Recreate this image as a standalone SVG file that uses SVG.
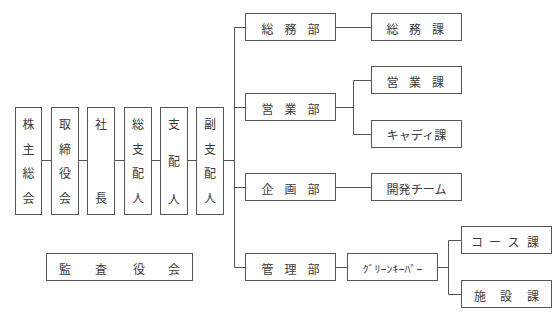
<svg xmlns="http://www.w3.org/2000/svg" width="556" height="329" viewBox="0 0 556 329">
<style>
rect{fill:#fff;stroke:#555;stroke-width:1}
.c line,.c path{stroke:#555;stroke-width:1;fill:none}
text{font-family:"Noto Sans CJK JP","Noto Sans",sans-serif;font-size:12px;fill:#3c3c3c;text-anchor:middle;dominant-baseline:central}
</style>
<rect x="0" y="0" width="556" height="329" style="stroke:none"/>
<g class="c" id="connectors">
<line x1="41.5" y1="160.5" x2="51.5" y2="160.5"/>
<line x1="78.5" y1="160.5" x2="87.5" y2="160.5"/>
<line x1="114.5" y1="160.5" x2="124.5" y2="160.5"/>
<line x1="151.5" y1="160.5" x2="160.5" y2="160.5"/>
<line x1="187.5" y1="160.5" x2="196.5" y2="160.5"/>
<line x1="223.5" y1="160.5" x2="234.5" y2="160.5"/>
<line x1="234.5" y1="27.5" x2="234.5" y2="267.5"/>
<line x1="234.5" y1="27.5" x2="245.5" y2="27.5"/>
<line x1="234.5" y1="107.5" x2="245.5" y2="107.5"/>
<line x1="234.5" y1="187.5" x2="245.5" y2="187.5"/>
<line x1="234.5" y1="267.5" x2="245.5" y2="267.5"/>
<line x1="335.5" y1="27.5" x2="371.5" y2="27.5"/>
<line x1="335.5" y1="107.5" x2="353.5" y2="107.5"/>
<path d="M371.5 80.5H353.5V134.5H371.5"/>
<line x1="335.5" y1="187.5" x2="371.5" y2="187.5"/>
<line x1="335.5" y1="267.5" x2="347.5" y2="267.5"/>
<line x1="437.5" y1="267.5" x2="448.5" y2="267.5"/>
<path d="M461.5 240.5H448.5V294.5H461.5"/>
</g>
<g id="kabunushi"><rect x="15.5" y="107.5" width="26" height="107"/><text x="28.5" y="123">株</text><text x="28.5" y="148">主</text><text x="28.5" y="172">総</text><text x="28.5" y="197">会</text></g>
<g id="torishimariyaku"><rect x="51.5" y="107.5" width="27" height="107"/><text x="65" y="123">取</text><text x="65" y="148">締</text><text x="65" y="172">役</text><text x="65" y="197">会</text></g>
<g id="shacho"><rect x="87.5" y="107.5" width="27" height="107"/><text x="101" y="123">社</text><text x="101" y="197">長</text></g>
<g id="soshihainin"><rect x="124.5" y="107.5" width="27" height="107"/><text x="138" y="123">総</text><text x="138" y="148">支</text><text x="138" y="172">配</text><text x="138" y="197">人</text></g>
<g id="shihainin"><rect x="160.5" y="107.5" width="27" height="107"/><text x="174" y="123">支</text><text x="174" y="160.5">配</text><text x="174" y="198">人</text></g>
<g id="fukushihainin"><rect x="196.5" y="107.5" width="27" height="107"/><text x="210" y="123">副</text><text x="210" y="148">支</text><text x="210" y="172">配</text><text x="210" y="197">人</text></g>
<g id="kansayaku"><rect x="46.5" y="253.5" width="146" height="27"/><text x="65" y="268">監</text><text x="101" y="268">査</text><text x="139" y="268">役</text><text x="174" y="268">会</text></g>
<g id="somubu"><rect x="245.5" y="13.5" width="90" height="27"/><text x="267.5" y="28">総</text><text x="290.5" y="28">務</text><text x="313.5" y="28">部</text></g>
<g id="somuka"><rect x="371.5" y="13.5" width="90" height="27"/><text x="392.5" y="28">総</text><text x="415" y="28">務</text><text x="438" y="28">課</text></g>
<g id="eigyobu"><rect x="245.5" y="93.5" width="90" height="27"/><text x="267.5" y="108">営</text><text x="290.5" y="108">業</text><text x="313.5" y="108">部</text></g>
<g id="eigyoka"><rect x="371.5" y="66.5" width="90" height="27"/><text x="392.5" y="81">営</text><text x="415" y="81">業</text><text x="438" y="81">課</text></g>
<g id="caddyka"><rect x="371.5" y="120.5" width="90" height="27"/><text x="416.5" y="134.5" textLength="60" lengthAdjust="spacingAndGlyphs">キャディ課</text></g>
<g id="kikakubu"><rect x="245.5" y="173.5" width="90" height="27"/><text x="267.5" y="188">企</text><text x="290.5" y="188">画</text><text x="313.5" y="188">部</text></g>
<g id="kaihatsu"><rect x="371.5" y="173.5" width="90" height="27"/><text x="416.5" y="188" textLength="60" lengthAdjust="spacingAndGlyphs">開発チーム</text></g>
<g id="kanribu"><rect x="245.5" y="253.5" width="90" height="27"/><text x="267.5" y="268">管</text><text x="290.5" y="268">理</text><text x="313.5" y="268">部</text></g>
<g id="greenkeeper"><rect x="347.5" y="253.5" width="90" height="27"/><text x="392.5" y="268" style="font-size:10px" textLength="60" lengthAdjust="spacingAndGlyphs">ｸﾞﾘｰﾝｷｰﾊﾟｰ</text></g>
<g id="coseka"><rect x="461.5" y="226.5" width="90" height="27"/><text x="477" y="241">コ</text><text x="495" y="241">ー</text><text x="513.5" y="241">ス</text><text x="533" y="241">課</text></g>
<g id="shisetsuka"><rect x="461.5" y="280.5" width="90" height="27"/><text x="480" y="295">施</text><text x="506" y="295">設</text><text x="533" y="295">課</text></g>
</svg>
